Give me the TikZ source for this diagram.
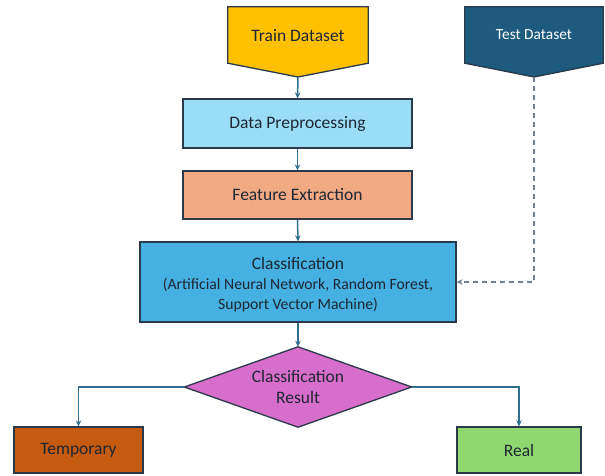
\documentclass[tikz,border=0pt]{standalone}
\usepackage{fontspec}
\setmainfont{Carlito}
\usetikzlibrary{arrows.meta,calc}
\definecolor{cTrain}{HTML}{FFC000}
\definecolor{cTest}{HTML}{1D5A7E}
\definecolor{cPrep}{HTML}{9BDDF6}
\definecolor{cFeat}{HTML}{F2AA84}
\definecolor{cCls}{HTML}{45B0E1}
\definecolor{cDia}{HTML}{D86ECC}
\definecolor{cTemp}{HTML}{C55A11}
\definecolor{cReal}{HTML}{8FD86F}
\definecolor{cBorder}{HTML}{2B3A4A}
\definecolor{cArrow}{HTML}{2F6F8F}
\definecolor{cDash}{HTML}{6F7F8F}
\definecolor{cText}{HTML}{1E2733}
\begin{document}
\begin{tikzpicture}[x=1pt,y=-1pt,
  box/.style={rectangle,draw=cBorder,line width=1.3pt,inner sep=0pt,align=center,
    text=cText,font=\fontsize{17.5}{20}\selectfont},
  label/.style={inner sep=0pt,align=center,text=cText,font=\fontsize{17.5}{20}\selectfont},
  conn/.style={draw=cArrow,line width=1.5pt,-{Stealth[length=6pt,width=5.5pt]}},
  dconn/.style={draw=cDash,line width=1.6pt,dash pattern=on 5pt off 4pt,-{Stealth[length=6pt,width=5.5pt]}},
  shp/.style={draw=cBorder,line width=1.3pt}
]
\useasboundingbox (0,0) rectangle (605,475);
% Train dataset pentagon
\node[label,minimum width=140pt,minimum height=56pt] (train) at (298,35) {};
\coordinate (traintip) at (298,77);
\fill[cTrain] (train.north west) -- (train.north east) -- (train.south east) -- (traintip) -- (train.south west) -- cycle;
\draw[shp] (train.north west) -- (train.north east) -- (train.south east) -- (traintip) -- (train.south west) -- cycle;
\node[label] (trainlbl) at ([yshift=-1pt]train.center) {Train Dataset};
% Test dataset pentagon
\node[label,minimum width=138pt,minimum height=56pt] (test) at (534,35) {};
\coordinate (testtip) at (534,77);
\fill[cTest] (test.north west) -- (test.north east) -- (test.south east) -- (testtip) -- (test.south west) -- cycle;
\draw[shp] (test.north west) -- (test.north east) -- (test.south east) -- (testtip) -- (test.south west) -- cycle;
\node[label,text=white,font=\fontsize{15.4}{18}\selectfont] (testlbl) at (test.center) {Test Dataset};
% Boxes
\node[box,fill=cPrep,minimum width=229pt,minimum height=49pt] (prep) at (297.5,123.5) {Data Preprocessing};
\node[box,fill=cFeat,minimum width=229pt,minimum height=48pt] (feat) at (297.5,195) {Feature Extraction};
\node[box,fill=cCls,minimum width=316pt,minimum height=80pt] (cls) at (298,282) {};
\node[label] (clslbl) at ([yshift=-2.5pt]cls.center)
  {Classification\\[0pt]{\fontsize{15.7}{19.5}\selectfont (Artificial Neural Network, Random Forest,}\\[0pt]{\fontsize{15.7}{19.5}\selectfont Support Vector Machine)}};
% Diamond
\node[label,minimum width=227pt,minimum height=80pt] (res) at (298,387) {};
\fill[cDia] (res.north) -- (res.east) -- (res.south) -- (res.west) -- cycle;
\draw[shp] (res.north) -- (res.east) -- (res.south) -- (res.west) -- cycle;
\node[label] (reslbl) at (res.center) {Classification\\[1pt]Result};
\node[box,fill=cTemp,minimum width=129pt,minimum height=46pt] (temp) at (78.5,450) {Temporary};
\node[box,fill=cReal,minimum width=124pt,minimum height=46pt] (real) at (519,450) {Real};
% Connectors
\draw[conn] (traintip) -- (prep.north);
\draw[conn] (prep.south) -- (feat.north);
\draw[conn] (feat.south) -- (cls.north);
\draw[conn] (cls.south) -- (res.north);
\draw[conn] (res.west) -| (temp.north);
\draw[conn] (res.east) -| (real.north);
\draw[dconn] (testtip) |- (cls.east);
\end{tikzpicture}
\end{document}
